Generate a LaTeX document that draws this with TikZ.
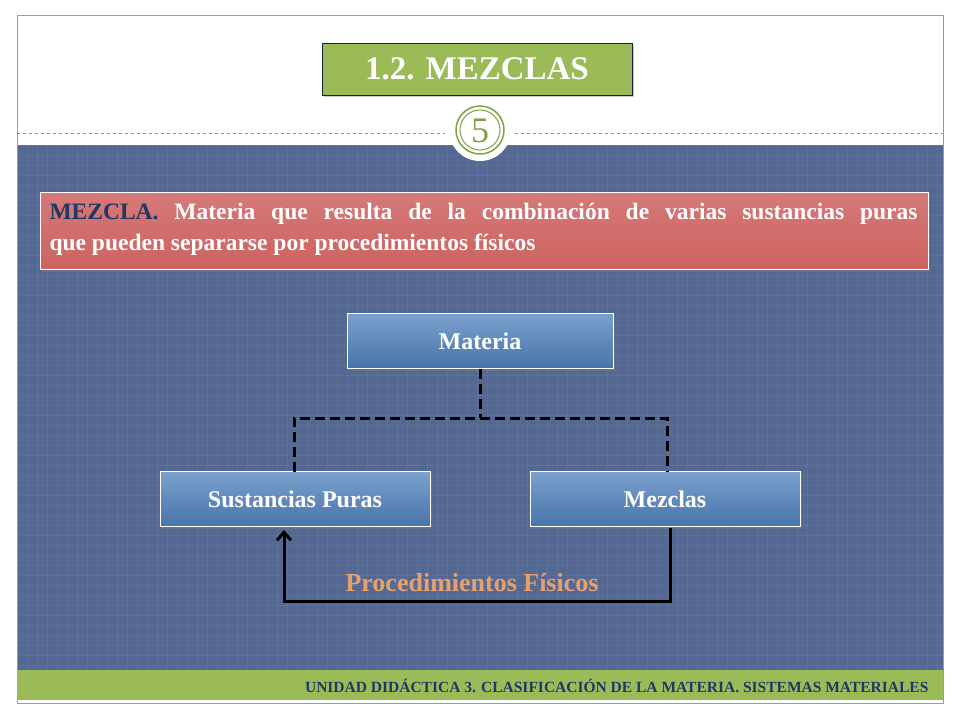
\documentclass[tikz,border=0pt]{standalone}
\usepackage{fontspec}
\setmainfont{Liberation Serif}
\usetikzlibrary{arrows.meta,positioning,shadows}
\definecolor{slideblue}{RGB}{84,104,146}
\definecolor{barGreen}{RGB}{155,187,89}
\definecolor{ringGreen}{RGB}{130,160,70}
\definecolor{boxBlue}{RGB}{79,129,189}
\definecolor{boxRed}{RGB}{205,98,96}
\definecolor{darkNavy}{RGB}{31,56,100}
\definecolor{tanText}{RGB}{230,160,110}
\tikzset{
  chartbox/.style = {draw=white, line width=1pt, top color=boxBlue!75!white,
    bottom color=boxBlue!90!black, text=white,
    font=\bfseries\fontsize{24}{28}\selectfont, minimum width=268pt,
    minimum height=55pt, drop shadow={opacity=0.4}},
  linkline/.style = {line width=3pt, black},
}
\begin{document}
\begin{tikzpicture}[x=1pt,y=-1pt]
\useasboundingbox (0,0) rectangle (960,720);
\fill[white] (0,0) rectangle (960,720);
% slide frame
\fill[slideblue] (17,145) rectangle (943,670);
\foreach \i in {0,...,92} \draw[white,opacity=0.06] (17+\i*10,145) -- (17+\i*10,670);
\foreach \j in {0,...,52} \draw[white,opacity=0.06] (17,145+\j*10) -- (943,145+\j*10);
\draw[barGreen!70!gray] (17,15) rectangle (943,703);
\fill[barGreen] (17,670) rectangle (943,700);
\node[anchor=east, font=\bfseries\fontsize{15.5}{17}\selectfont, text=darkNavy] (footer) at (932,686)
  {UNIDAD DIDÁCTICA 3. CLASIFICACIÓN DE LA MATERIA. SISTEMAS MATERIALES};
\draw[ringGreen, dashed] (17,133) -- (445,133);
\draw[ringGreen, dashed] (515,133) -- (943,133);
% title
\node[draw=darkNavy!60!black, fill=barGreen, text=white, line width=1pt,
  minimum width=310pt, minimum height=52pt, font=\bfseries\fontsize{33}{38}\selectfont,
  drop shadow={opacity=0.4}] (title) at (477,69) {1.2. MEZCLAS};
% slide number
\fill[white] (480,130) circle (31);
\draw[ringGreen, line width=1.5pt] (480,130) circle (24);
\draw[ringGreen, line width=1pt] (480,130) circle (20);
\node[text=ringGreen, font=\fontsize{36}{40}\selectfont] (num) at (480,131) {5};
% definition
\node[draw=white, line width=1pt, top color=boxRed!85!white, bottom color=boxRed,
  minimum width=888pt, minimum height=77pt,
  drop shadow={opacity=0.4}] (defbox) at (484,231) {};
\node[anchor=north west, text width=868pt, align=justify, text=white,
  font=\bfseries\fontsize{23.5}{31}\selectfont] (deftext) at (46,200)
  {\textcolor{darkNavy}{MEZCLA.} Materia que resulta de la combinación de varias sustancias puras\linebreak
   que pueden separarse por procedimientos físicos};
% chart
\node[chartbox, minimum width=266pt] (materia) at (480,341) {Materia};
\node[chartbox, minimum width=270pt] (puras) at (295,499) {Sustancias Puras};
\node[chartbox, minimum width=270pt] (mezclas) at (665,499) {Mezclas};
\coordinate (mid) at (480,418);
\coordinate (lefttop) at (294,472);
\coordinate (righttop) at (667,472);
\draw[linkline, dash pattern=on 10pt off 5pt] (materia.south) -- (mid);
\draw[linkline, dash pattern=on 10pt off 5pt] (lefttop) |- (mid) -| (righttop);
\coordinate (rightbot) at (670,528);
\coordinate (corner) at (284,601);
\coordinate (leftbot) at (284,530);
\draw[linkline, -{Straight Barb[length=8pt,width=14pt]}] (rightbot) |- (corner) -- (leftbot);
\node[text=tanText, font=\bfseries\fontsize{26}{30}\selectfont] (proc) at (472,583) {Procedimientos Físicos};
\end{tikzpicture}
\end{document}
